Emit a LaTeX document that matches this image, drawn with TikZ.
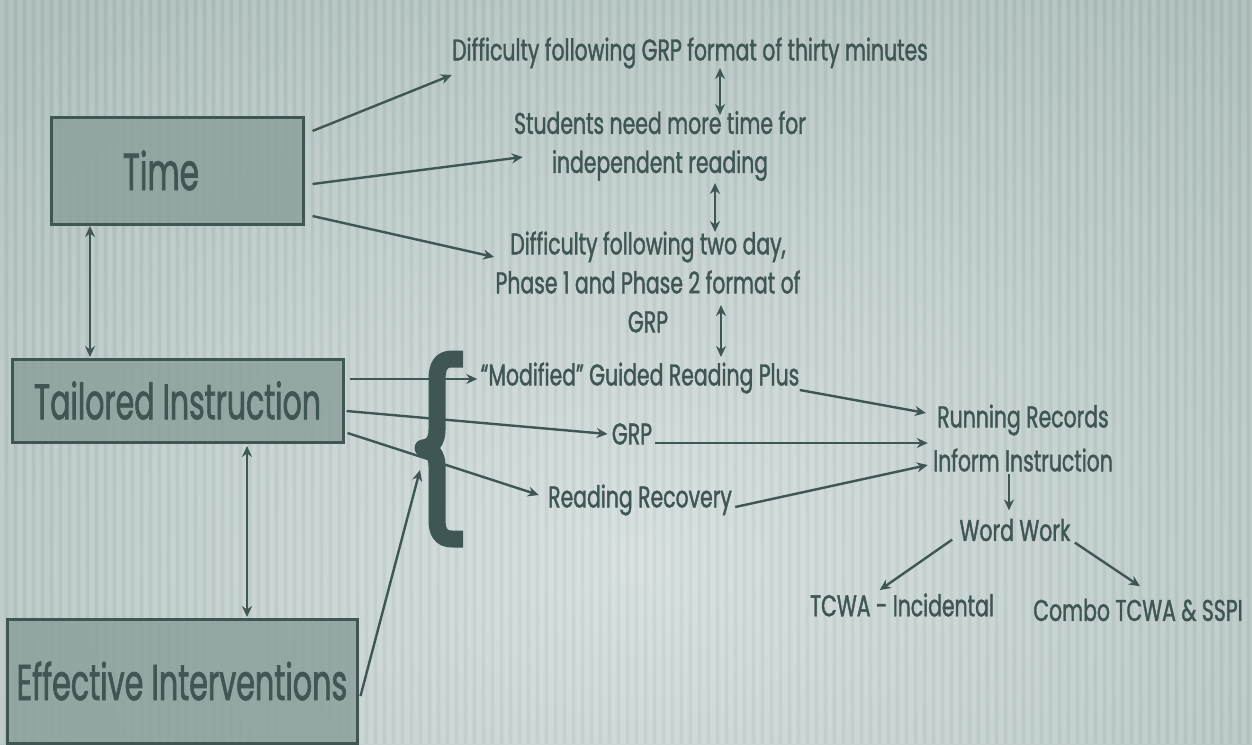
\documentclass[tikz,border=0pt]{standalone}
\usepackage{fontspec}
\setmainfont[FakeStretch=0.68,FakeBold=1.3]{Poppins}
\newfontfamily\bigfont[FakeStretch=0.6,FakeBold=1.3]{Poppins}
\usetikzlibrary{arrows.meta,calc}
\definecolor{ink}{HTML}{405655}
\definecolor{boxfill}{HTML}{8CA09C}
\definecolor{bgout}{HTML}{ADBEBB}
\definecolor{bgin}{HTML}{D6DFDF}
\tikzset{
  lbl/.style={text=ink,font=\fontsize{15}{19.5}\selectfont,inner sep=0pt,align=center},
  big/.style={draw=ink,line width=1.5pt,fill=boxfill,fill opacity=0.85,text opacity=1,text=ink,inner sep=0pt},
  con/.style={draw=ink,line width=1.2pt,-{Stealth[length=5.5pt,width=5pt]}},
  dcon/.style={draw=ink,line width=1.2pt,{Stealth[length=5.5pt,width=5pt]}-{Stealth[length=5.5pt,width=5pt]}}
}
\begin{document}
\begin{tikzpicture}[x=0.5pt,y=-0.5pt]
\useasboundingbox (0,0) rectangle (1252,744);
% background
\shade[inner color=bgin,outer color=bgout] (-260,-140) rectangle (1540,1260);
\foreach \i in {0,9,...,1252} {
  \fill[white,opacity=0.09] (\i,0) rectangle (\i+4,744);
  \fill[black!60!teal,opacity=0.035] (\i+4.5,0) rectangle (\i+8,744);
}
% boxes
\node[big,minimum width=126pt,minimum height=53.5pt,font=\bigfont\fontsize{26}{30}\selectfont] (time) at (177,170.5) {Time\hspace*{16pt}};
\node[big,minimum width=165.5pt,minimum height=41.5pt,font=\bigfont\fontsize{25}{28}\selectfont] (tail) at (177.5,400.5) {Tailored Instruction};
\node[big,minimum width=175pt,minimum height=62pt,font=\bigfont\fontsize{25.2}{28}\selectfont] (eff) at (182,681) {Effective Interventions};
% text nodes
\node[lbl] (t1) at (690,53) {Difficulty following GRP format of thirty minutes};
\node[lbl] (t2) at (660,146) {Students need more time for\\independent reading};
\node[lbl] (t3) at (648,282) {Difficulty following two day,\\Phase 1 and Phase 2 format of\\GRP};
\node[lbl] (mod) at (640,378) {“Modified” Guided Reading Plus};
\node[lbl] (grp) at (632,434) {GRP};
\node[lbl] (rr) at (640,500) {Reading Recovery};
\node[lbl] (run) at (1023,420) {Running Records};
\node[lbl] (inf) at (1023,460) {Inform Instruction};
\node[lbl] (ww) at (1015,530) {Word Work};
\node[lbl] (tcwa) at (902,605) {TCWA - Incidental};
\node[lbl] (combo) at (1138,610) {Combo TCWA \& SSPI};
% brace
\draw[ink,line width=8.5pt,line join=round] (463,359) -- (452,359) .. controls (441,359) and (437,366) .. (437,380) -- (437,430) .. controls (437,441) and (432,447) .. (423,448) .. controls (432,449) and (437,455) .. (437,466) -- (437,520) .. controls (437,532) and (441,539) .. (452,539) -- (463,539);
\coordinate (bracept) at (420,470);
% connectors from Time
\draw[con] ($(time.east)+(8,-39.5)$) -- ($(t1.west)+(0,22)$);
\draw[con] ($(time.east)+(8,13.5)$) -- ($(t2.west)+(9,11)$);
\draw[con] ($(time.east)+(8,45.5)$) -- ($(t3.west)+(-1,-25)$);
% vertical double arrows
\draw[dcon] ($(t1.center)+(30,15)$) -- ($(t2.center)+(60,-31)$);
\draw[dcon] ($(t2.center)+(55,37)$) -- ($(t3.center)+(67,-50)$);
\draw[dcon] ($(t3.center)+(73,23)$) -- ($(mod.center)+(81,-21)$);
\draw[dcon] ($(time.center)+(-87,55.5)$) -- ($(tail.center)+(-87.5,-43.5)$);
\draw[dcon] ($(tail.center)+(69.5,45.5)$) -- ($(eff.center)+(65,-64)$);
% connectors from Tailored Instruction
\draw[con] ($(tail.east)+(5,-21.5)$) -- ($(mod.west)+(-3,1)$);
\draw[con] ($(tail.east)+(2,10.5)$) -- ($(grp.west)+(-4,0)$);
\draw[con] ($(tail.east)+(3,32.5)$) -- ($(rr.west)+(-9,-5)$);
\draw[con] ($(eff.east)+(2,15)$) -- (bracept);
% right side
\draw[con] ($(mod.east)+(0,12)$) -- ($(run.west)+(-11,-7)$);
\draw[con] ($(grp.east)+(3,9)$) -- ($(inf.west)+(-5,-17)$);
\draw[con] ($(rr.east)+(3,7)$) -- ($(inf.west)+(-5,5)$);
\draw[con] ($(inf.south)+(-14,2)$) -- ($(ww.north)+(-6,-8)$);
\draw[con] ($(ww.south west)+(-7,-2)$) -- ($(tcwa.north west)+(70,-3)$);
\draw[con] ($(ww.south east)+(4,1)$) -- ($(combo.north)+(2,-12)$);
\end{tikzpicture}
\end{document}
